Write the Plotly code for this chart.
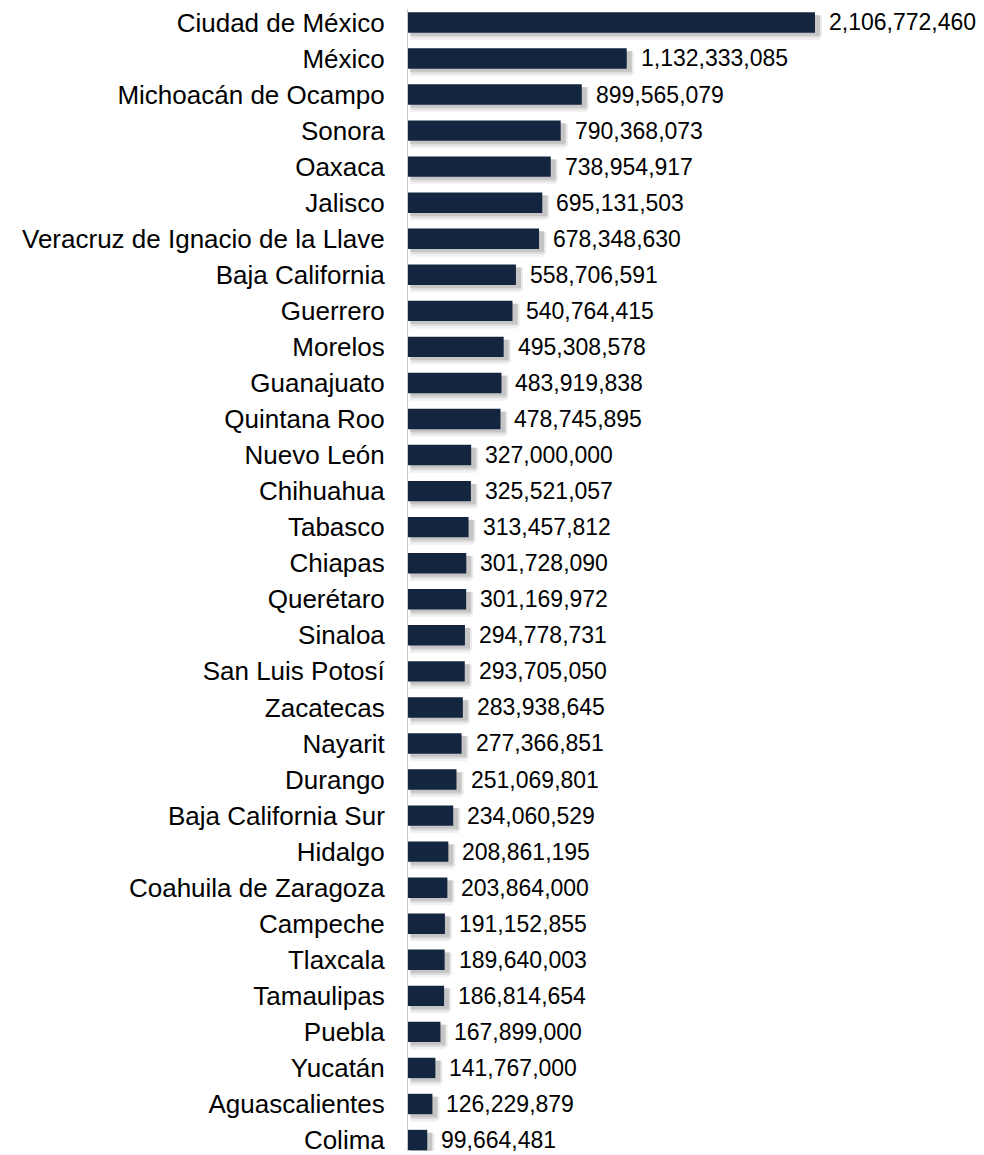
import plotly.graph_objects as go

states = ["Ciudad de México", "México", "Michoacán de Ocampo", "Sonora", "Oaxaca", "Jalisco",
          "Veracruz de Ignacio de la Llave", "Baja California", "Guerrero", "Morelos", "Guanajuato",
          "Quintana Roo", "Nuevo León", "Chihuahua", "Tabasco", "Chiapas", "Querétaro", "Sinaloa",
          "San Luis Potosí", "Zacatecas", "Nayarit", "Durango", "Baja California Sur", "Hidalgo",
          "Coahuila de Zaragoza", "Campeche", "Tlaxcala", "Tamaulipas", "Puebla", "Yucatán",
          "Aguascalientes", "Colima"]
values = [2106772460, 1132333085, 899565079, 790368073, 738954917, 695131503,
          678348630, 558706591, 540764415, 495308578, 483919838,
          478745895, 327000000, 325521057, 313457812, 301728090, 301169972, 294778731,
          293705050, 283938645, 277366851, 251069801, 234060529, 208861195,
          203864000, 191152855, 189640003, 186814654, 167899000, 141767000,
          126229879, 99664481]

OFF = 8  # page body margin
W, H = 984 - OFF, 1155 - OFF
ML = 408 - OFF
PX = 5.1764e6  # value per pixel
XMAX = (W - ML) * PX
pitch = (1144 - 21.5) / 31
ytop = -(21.5 - OFF) / pitch
ybot = ytop + H / pitch

idx = list(range(len(states)))
bw = 20.5 / pitch

fig = go.Figure()
# soft shadow layers
for dx, dy, a, extra in [(3, 5, 0.07, 5), (4, 4, 0.11, 2), (3, 3, 0.15, 0)]:
    fig.add_trace(go.Bar(
        y=idx, x=[v + dx * PX for v in values], orientation="h",
        base=[(dx - 1) * PX] * len(values),
        width=bw + extra / pitch, offset=-bw / 2 + dy / pitch - extra / (2 * pitch),
        marker=dict(color=f"rgba(60,60,60,{a})", line=dict(width=0)),
        hoverinfo="skip", showlegend=False))
fig.add_trace(go.Bar(
    y=idx, x=values, orientation="h", width=bw, offset=-bw / 2,
    marker=dict(color="#13253F", line=dict(width=0)), showlegend=False))

for i, v in zip(idx, values):
    fig.add_annotation(x=v, y=i, text=f"{v:,}", showarrow=False, xanchor="left",
                       yanchor="middle", xshift=12, font=dict(size=23, color="#000000"))

fig.update_layout(
    width=W, height=H, barmode="overlay",
    margin=dict(l=ML, r=0, t=0, b=0),
    paper_bgcolor="white", plot_bgcolor="white",
    font=dict(family="Liberation Sans, Arial, sans-serif", color="#000000"),
    xaxis=dict(range=[0, XMAX], visible=False, showgrid=False, zeroline=False),
    yaxis=dict(range=[ybot, ytop], tickmode="array", tickvals=idx, ticktext=states,
               showline=True, linecolor="#C8C8C8", linewidth=1, ticks="",
               ticklabelstandoff=17, ticklabeloverflow="allow",
               tickfont=dict(size=26, color="#000000"),
               showgrid=False, zeroline=False),
)
fig.write_html("out.html")
